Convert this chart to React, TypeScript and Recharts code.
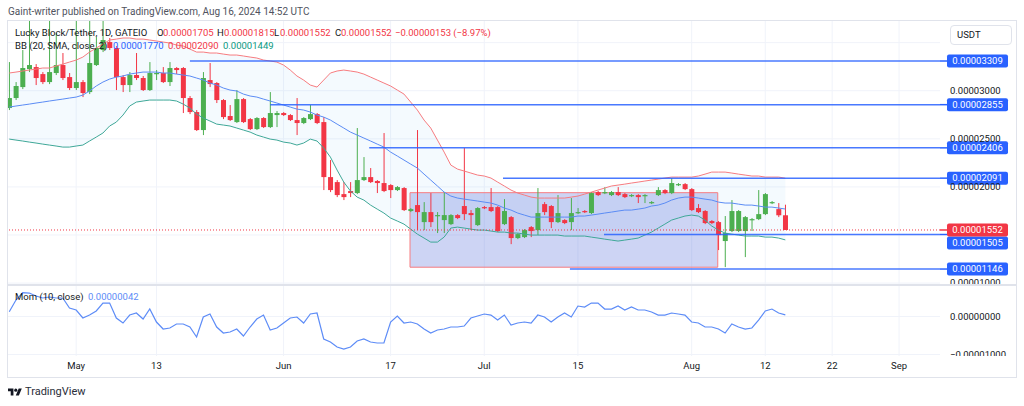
import React from "react";
import {
  ComposedChart,
  Bar,
  Line,
  Area,
  XAxis,
  YAxis,
  CartesianGrid,
  ReferenceLine,
  ReferenceArea,
} from "recharts";

// prices are stored in units of 1e-8 USDT
const opens = [
  2820, 2924, 3038, 3225, 3246, 3173, 3090, 3184, 3267, 3142,
  3028, 3090, 2986, 3267, 3423, 3506, 3444, 3142, 3059, 3163,
  3132, 3007, 3173, 3184, 3090, 3236, 3236, 2924, 2778, 2591,
  3111, 3080, 2903, 2737, 2674, 2913, 2705, 2601, 2716, 2622,
  2747, 2768, 2747, 2695, 2664, 2705, 2757, 2674, 2102, 2050,
  1925, 1957, 1936, 2071, 2102, 2061, 2040, 2019, 1967, 1988,
  1749, 1811, 1634, 1738, 1697, 1655, 1613, 1707, 1801, 1728,
  1603, 1790, 1790, 1790, 1613, 1686, 1468, 1478, 1582, 1551,
  1821, 1801, 1634, 1655, 1634, 1728, 1749, 1728, 1946, 1936,
  1915, 1946, 1925, 1905, 1915, 1905, 1832, 1915, 1967, 1936,
  2019, 2029, 1977, 1780, 1749, 1645, 1634, 1437, 1541, 1541,
  1541, 1655, 1665, 1717, 1832, 1769, 1705,
];
const highs = [
  3298, 3090, 3423, 3740, 3277, 3194, 3740, 3600, 3392, 3184,
  3740, 3111, 3740, 3558, 3740, 3548, 3465, 3163, 3194, 3392,
  3153, 3298, 3215, 3246, 3298, 3246, 3246, 2945, 2799, 3194,
  3288, 3090, 2913, 2851, 3007, 2924, 2716, 2726, 2726, 2986,
  2789, 2778, 2757, 2924, 2726, 2851, 2768, 2726, 2279, 2071,
  2050, 2050, 2612, 2310, 2196, 2071, 2560, 2029, 2009, 1998,
  1780, 2591, 1842, 1936, 1738, 1946, 1717, 1717, 2404, 1759,
  1790, 1801, 1988, 1801, 1873, 1697, 1520, 1561, 1593, 1988,
  1842, 1811, 1915, 1665, 1884, 1780, 1759, 1946, 1957, 1998,
  1957, 1998, 1936, 1925, 1925, 1925, 1853, 1998, 1977, 2092,
  2040, 2040, 1988, 1821, 1759, 1655, 1645, 1697, 1863, 1759,
  1697, 1676, 1967, 1936, 1853, 1832, 1815,
];
const lows = [
  2799, 2903, 3017, 3194, 3059, 3069, 3069, 3163, 3111, 3007,
  3007, 2934, 2965, 3257, 3402, 3423, 3007, 2986, 2986, 3111,
  2997, 2997, 3111, 3080, 3049, 3173, 2768, 2757, 2581, 2539,
  3038, 2872, 2705, 2685, 2664, 2664, 2591, 2591, 2612, 2612,
  2622, 2737, 2685, 2539, 2653, 2695, 2653, 1967, 1946, 1894,
  1863, 1894, 1925, 2061, 2040, 1936, 1946, 1884, 1957, 1749,
  1738, 1551, 1551, 1582, 1520, 1520, 1603, 1665, 1655, 1551,
  1593, 1769, 1738, 1530, 1603, 1405, 1457, 1468, 1478, 1499,
  1707, 1572, 1624, 1613, 1551, 1717, 1728, 1717, 1905, 1925,
  1905, 1905, 1884, 1894, 1832, 1832, 1821, 1905, 1925, 1925,
  2009, 1967, 1749, 1728, 1613, 1613, 1343, 1166, 1530, 1530,
  1270, 1541, 1655, 1707, 1821, 1686, 1552,
];
const closes = [
  2924, 3049, 3236, 3267, 3132, 3090, 3194, 3267, 3132, 3028,
  3090, 2976, 3288, 3444, 3527, 3444, 3142, 3059, 3163, 3132,
  3007, 3184, 3184, 3090, 3236, 3215, 2924, 2778, 2591, 3132,
  3069, 2903, 2726, 2695, 2913, 2674, 2601, 2716, 2622, 2768,
  2768, 2747, 2695, 2664, 2716, 2757, 2664, 2102, 1967, 1915,
  1894, 1936, 2071, 2102, 2050, 2040, 1957, 1967, 1998, 1759,
  1769, 1738, 1738, 1634, 1707, 1707, 1707, 1676, 1717, 1707,
  1780, 1780, 1749, 1541, 1749, 1468, 1509, 1551, 1541, 1728,
  1738, 1634, 1728, 1624, 1728, 1738, 1738, 1936, 1915, 1946,
  1946, 1915, 1894, 1915, 1894, 1915, 1842, 1967, 1936, 2040,
  2029, 1977, 1759, 1738, 1624, 1624, 1499, 1520, 1749, 1749,
  1686, 1665, 1717, 1925, 1842, 1705, 1552,
];

// Bollinger Bands (20, SMA, close, 2)
const bbUpper = [
  3184, 3194, 3205, 3215, 3225, 3236, 3236, 3257, 3277, 3298,
  3319, 3350, 3402, 3444, 3485, 3527, 3537, 3548, 3548, 3537,
  3537, 3527, 3517, 3506, 3496, 3475, 3465, 3433, 3402, 3402,
  3392, 3392, 3381, 3371, 3371, 3361, 3350, 3340, 3319, 3309,
  3298, 3267, 3215, 3153, 3111, 3059, 3038, 3111, 3184, 3205,
  3215, 3205, 3194, 3173, 3142, 3111, 3080, 3049, 3007, 2965,
  2882, 2799, 2695, 2612, 2487, 2362, 2227, 2185, 2165, 2144,
  2123, 2113, 2092, 2050, 2009, 1967, 1936, 1915, 1894, 1884,
  1884, 1884, 1884, 1884, 1894, 1905, 1925, 1946, 1967, 1988,
  2009, 2019, 2029, 2040, 2050, 2061, 2071, 2081, 2092, 2102,
  2102, 2102, 2102, 2113, 2133, 2154, 2154, 2154, 2144, 2133,
  2123, 2113, 2113, 2102, 2102, 2102, 2090,
];
const bbBasis = [
  2830, 2841, 2851, 2861, 2872, 2882, 2893, 2903, 2913, 2924,
  2934, 2955, 2997, 3049, 3090, 3121, 3142, 3153, 3173, 3184,
  3194, 3194, 3194, 3184, 3184, 3173, 3163, 3153, 3132, 3111,
  3080, 3059, 3028, 3007, 2997, 2965, 2945, 2934, 2913, 2893,
  2872, 2851, 2830, 2809, 2799, 2778, 2747, 2726, 2695, 2653,
  2612, 2570, 2539, 2508, 2477, 2445, 2414, 2362, 2321, 2279,
  2237, 2196, 2133, 2071, 2009, 1946, 1905, 1884, 1873, 1863,
  1853, 1842, 1832, 1811, 1780, 1759, 1728, 1707, 1686, 1686,
  1686, 1686, 1686, 1686, 1686, 1697, 1697, 1707, 1717, 1728,
  1738, 1749, 1759, 1759, 1769, 1780, 1801, 1811, 1832, 1863,
  1884, 1894, 1894, 1884, 1873, 1863, 1842, 1832, 1832, 1821,
  1811, 1811, 1801, 1790, 1790, 1780, 1770,
];
const bbLower = [
  2497, 2487, 2477, 2466, 2456, 2445, 2435, 2425, 2414, 2414,
  2425, 2435, 2477, 2518, 2560, 2633, 2674, 2747, 2841, 2882,
  2893, 2903, 2903, 2903, 2903, 2893, 2861, 2820, 2757, 2716,
  2685, 2653, 2643, 2633, 2612, 2591, 2570, 2539, 2518, 2497,
  2487, 2466, 2456, 2435, 2456, 2497, 2477, 2404, 2310, 2175,
  2050, 1957, 1894, 1863, 1811, 1769, 1728, 1676, 1645, 1613,
  1561, 1509, 1468, 1426, 1426, 1478, 1572, 1582, 1572, 1561,
  1551, 1551, 1541, 1530, 1530, 1520, 1520, 1509, 1499, 1499,
  1499, 1499, 1499, 1489, 1489, 1489, 1489, 1478, 1468, 1457,
  1447, 1437, 1447, 1457, 1468, 1499, 1530, 1572, 1613, 1655,
  1676, 1697, 1707, 1697, 1655, 1593, 1551, 1520, 1509, 1499,
  1489, 1489, 1489, 1478, 1478, 1468, 1449,
];

// Momentum (10, close)
const momentum = [
  126, 434, 626, 618, 539, 487, 513, 487, 487, 224,
  171, -39, 39, 145, 355, 355, -39, -171, 39, 92,
  -66, 197, -145, -329, -302, -197, -197, -276, -539, -13,
  66, -276, -434, -408, -329, -513, -276, -66, 39, -355,
  -302, -171, -39, -13, -171, 66, 92, -592, -671, -802,
  -855, -802, -644, -592, -671, -697, -697, -145, 13, -171,
  -145, -197, -329, -434, -355, -329, -276, -276, -250, -39,
  13, 66, 39, -92, 39, -224, -171, -145, -171, 39,
  -13, -145, -13, 92, -13, 276, 250, 355, 355, 197,
  197, 276, 171, 250, 171, 171, 118, 39, 39, 92,
  66, 39, -145, -171, -276, -276, -329, -434, -197, -276,
  -329, -302, -92, 145, 197, 92, 42,
];

// time axis (candle index 0 = 21 Apr)
const timeTicks = [10, 22, 41, 57, 71, 85, 102, 113, 123, 133];
const timeLabels = ["May", "13", "Jun", "17", "Jul", "15", "Aug", "12", "22", "Sep"];
const priceTicks = [1000, 2000, 2500, 3000];
const priceGrid = [1000, 1500, 2000, 2500, 3000, 3500];
const momTicks = [0, -1000];

// horizontal levels drawn on the chart and the candle index where each starts
const levelPrices = [3309, 2855, 2406, 2091, 1505, 1146];
const levelStarts = [27, 39, 53.8, 73.8, 88.9, 83.8];
const lastPrice = 1552;

// range box
const zoneX = [59.9, 105.9];
const zoneY = [1165, 1940];

const X_MIN = -0.19;
const X_MAX = 139.12;
const FONT = "Roboto, 'Noto Sans', sans-serif";
const UP = "#4caf50";
const DOWN = "#f23645";
const BLUE = "#2962ff";

const rows = closes.map((c, i) => ({
  i,
  open: opens[i],
  high: highs[i],
  low: lows[i],
  close: c,
  upper: bbUpper[i],
  basis: bbBasis[i],
  lower: bbLower[i],
  mom: momentum[i],
}));

const fmt = (v: number) => (v < 0 ? "\u2212" : "") + (Math.abs(v) / 1e8).toFixed(8);

function Candle(props: any) {
  const { x, y, width, height, payload } = props;
  if (!payload || height == null) return null;
  const { open, close, high, low } = payload;
  const color = close >= open ? UP : DOWN;
  const k = height / (high - low);
  const top = y + (high - Math.max(open, close)) * k;
  const bottom = y + (high - Math.min(open, close)) * k;
  const cx = x + width / 2;
  return (
    <g>
      <line x1={cx} x2={cx} y1={y} y2={y + height} stroke={color} strokeWidth={1} />
      <rect x={x} y={top} width={width} height={Math.max(1.2, bottom - top)} fill={color} />
    </g>
  );
}

function PriceTag({ viewBox, value, color, dy = 0 }: any) {
  if (!viewBox) return null;
  const right = viewBox.x + viewBox.width;
  const ty = viewBox.y + dy;
  return (
    <g>
      <line x1={right} x2={right + 8} y1={viewBox.y} y2={viewBox.y} stroke={color} strokeWidth={1.5} />
      <rect x={right + 7} y={ty - 6.5} width={61} height={13} rx={2} fill={color} />
      <text
        x={right + 37.5}
        y={ty}
        dy="0.35em"
        textAnchor="middle"
        fill="#fff"
        fontSize={9.5}
        fontFamily={FONT}
      >
        {fmt(value)}
      </text>
    </g>
  );
}

function Txt({ x, y, color = "#131722", size = 9.5, children }: any) {
  return (
    <div
      style={{
        position: "absolute",
        left: x,
        top: y - size * 0.6,
        fontSize: size,
        lineHeight: `${size * 1.2}px`,
        color,
        whiteSpace: "nowrap",
      }}
    >
      {children}
    </div>
  );
}

export default function App() {
  const tickStyle = { fontSize: 9.5, fill: "#131722", fontFamily: FONT };
  return (
    <div
      style={{
        position: "absolute",
        left: 0,
        top: 0,
        width: 1024,
        height: 406,
        background: "#fff",
        fontFamily: FONT,
        overflow: "hidden",
      }}
    >
      <Txt x={8} y={12} size={10} color="#50535e">
        Gaint-writer published on TradingView.com, Aug 16, 2024 14:52 UTC
      </Txt>

      {/* main price pane */}
      <div style={{ position: "absolute", left: 8, top: 21 }}>
        <ComposedChart width={1008} height={264} data={rows} margin={{ top: 0, right: 0, bottom: 0, left: 0 }}>
          <CartesianGrid stroke="#f0f3fa" horizontalValues={priceGrid} verticalValues={timeTicks} />
          <XAxis type="number" dataKey="i" domain={[X_MIN, X_MAX]} allowDataOverflow hide />
          <YAxis
            orientation="right"
            width={76}
            domain={[980, 3725]}
            allowDataOverflow
            ticks={priceTicks}
            interval={0}
            tickFormatter={fmt}
            axisLine={false}
            tickLine={false}
            tickSize={0}
            tickMargin={10}
            tick={tickStyle}
          />
          <Area
            dataKey={(d: any) => [d.lower, d.upper]}
            stroke="none"
            fill="#2196f3"
            fillOpacity={0.05}
            isAnimationActive={false}
          />
          <ReferenceArea
            x1={zoneX[0]}
            x2={zoneX[1]}
            y1={zoneY[0]}
            y2={zoneY[1]}
            fill="#4a66d8"
            fillOpacity={0.28}
            stroke="#f77c80"
            strokeWidth={1}
          />
          <Bar
            dataKey={(d: any) => [d.low, d.high]}
            barSize={5}
            shape={(p: any) => <Candle {...p} />}
            isAnimationActive={false}
          />
          <Line dataKey="upper" type="linear" stroke="#f77c80" strokeWidth={1} dot={false} isAnimationActive={false} />
          <Line dataKey="basis" type="linear" stroke="#5b8cf5" strokeWidth={1} dot={false} isAnimationActive={false} />
          <Line dataKey="lower" type="linear" stroke="#3fa898" strokeWidth={1} dot={false} isAnimationActive={false} />
          {levelPrices.map((p, k) => (
            <ReferenceLine
              key={p}
              segment={[
                { x: levelStarts[k], y: p },
                { x: X_MAX, y: p },
              ]}
              stroke={BLUE}
              strokeOpacity={0.85}
              strokeWidth={1.5}
              label={(lp: any) => <PriceTag {...lp} value={p} color={BLUE} dy={p === 1505 ? 8.5 : 0} />}
            />
          ))}
          <ReferenceLine
            y={lastPrice}
            stroke={DOWN}
            strokeDasharray="1 2"
            strokeWidth={1}
            label={(lp: any) => <PriceTag {...lp} value={lastPrice} color={DOWN} />}
          />
        </ComposedChart>
      </div>

      {/* momentum pane */}
      <div style={{ position: "absolute", left: 8, top: 286 }}>
        <ComposedChart width={1008} height={70} data={rows} margin={{ top: 0, right: 0, bottom: 0, left: 0 }}>
          <CartesianGrid stroke="#f0f3fa" horizontalValues={momTicks} verticalValues={timeTicks} />
          <XAxis type="number" dataKey="i" domain={[X_MIN, X_MAX]} allowDataOverflow hide />
          <YAxis
            orientation="right"
            width={76}
            domain={[-1039, 803]}
            allowDataOverflow
            ticks={momTicks}
            interval={0}
            tickFormatter={fmt}
            axisLine={false}
            tickLine={false}
            tickSize={0}
            tickMargin={10}
            tick={tickStyle}
          />
          <Line dataKey="mom" type="linear" stroke="#5d8cf7" strokeWidth={1.2} dot={false} isAnimationActive={false} />
        </ComposedChart>
      </div>

      {/* time axis */}
      <div style={{ position: "absolute", left: 8, top: 356 }}>
        <ComposedChart width={1008} height={21} data={rows} margin={{ top: 0, right: 0, bottom: 0, left: 0 }}>
          <XAxis
            type="number"
            dataKey="i"
            domain={[X_MIN, X_MAX]}
            allowDataOverflow
            ticks={timeTicks}
            interval={0}
            height={20}
            tickFormatter={(v: number) => timeLabels[timeTicks.indexOf(v)] ?? ""}
            axisLine={false}
            tickLine={false}
            tickSize={0}
            tickMargin={5}
            tick={tickStyle}
          />
          <YAxis orientation="right" width={76} tick={false} axisLine={false} tickLine={false} />
          <Line dataKey="mom" stroke="none" dot={false} isAnimationActive={false} />
        </ComposedChart>
      </div>

      {/* frame and pane separator */}
      <div
        style={{
          position: "absolute",
          left: 7,
          top: 20,
          width: 1010,
          height: 358,
          boxSizing: "border-box",
          border: "1px solid #e0e3eb",
          pointerEvents: "none",
        }}
      />
      <div style={{ position: "absolute", left: 7, top: 284, width: 1010, height: 2, background: "#e0e3eb" }} />

      {/* legends */}
      <Txt x={15} y={33}>Lucky Block/Tether, 1D, GATEIO</Txt>
      <Txt x={157} y={33}>O</Txt>
      <Txt x={163} y={33} color={DOWN}>0.00001705</Txt>
      <Txt x={217} y={33}>H</Txt>
      <Txt x={224} y={33} color={DOWN}>0.00001815</Txt>
      <Txt x={274} y={33}>L</Txt>
      <Txt x={280} y={33} color={DOWN}>0.00001552</Txt>
      <Txt x={335} y={33}>C</Txt>
      <Txt x={341} y={33} color={DOWN}>0.00001552</Txt>
      <Txt x={395} y={33} color={DOWN}>{"\u22120.00000153 (\u22128.97%)"}</Txt>

      <Txt x={15} y={46}>BB (20, SMA, close, 2)</Txt>
      <Txt x={113} y={46} color={BLUE}>0.00001770</Txt>
      <Txt x={168} y={46} color={DOWN}>0.00002090</Txt>
      <Txt x={223} y={46} color="#089981">0.00001449</Txt>

      <Txt x={15} y={297}>Mom (10, close)</Txt>
      <Txt x={88} y={297} color="#5d8cf7">0.00000042</Txt>

      <div
        style={{
          position: "absolute",
          left: 950,
          top: 25,
          width: 62,
          height: 20,
          boxSizing: "border-box",
          border: "1px solid #e0e3eb",
          borderRadius: 4,
          background: "#fff",
          fontSize: 9.5,
          lineHeight: "18px",
          paddingLeft: 6,
          color: "#131722",
        }}
      >
        USDT
      </div>

      {/* footer logo */}
      <svg style={{ position: "absolute", left: 8, top: 387 }} width={14} height={11} viewBox="0 0 36 28">
        <path d="M14 22H7V11H0V4h14v18zM28 22h-8l7.5-18h8L28 22z" fill="#131722" />
        <circle cx="20" cy="8" r="4" fill="#131722" />
      </svg>
      <Txt x={25} y={392} size={11} color="#2a2e39">TradingView</Txt>
    </div>
  );
}
